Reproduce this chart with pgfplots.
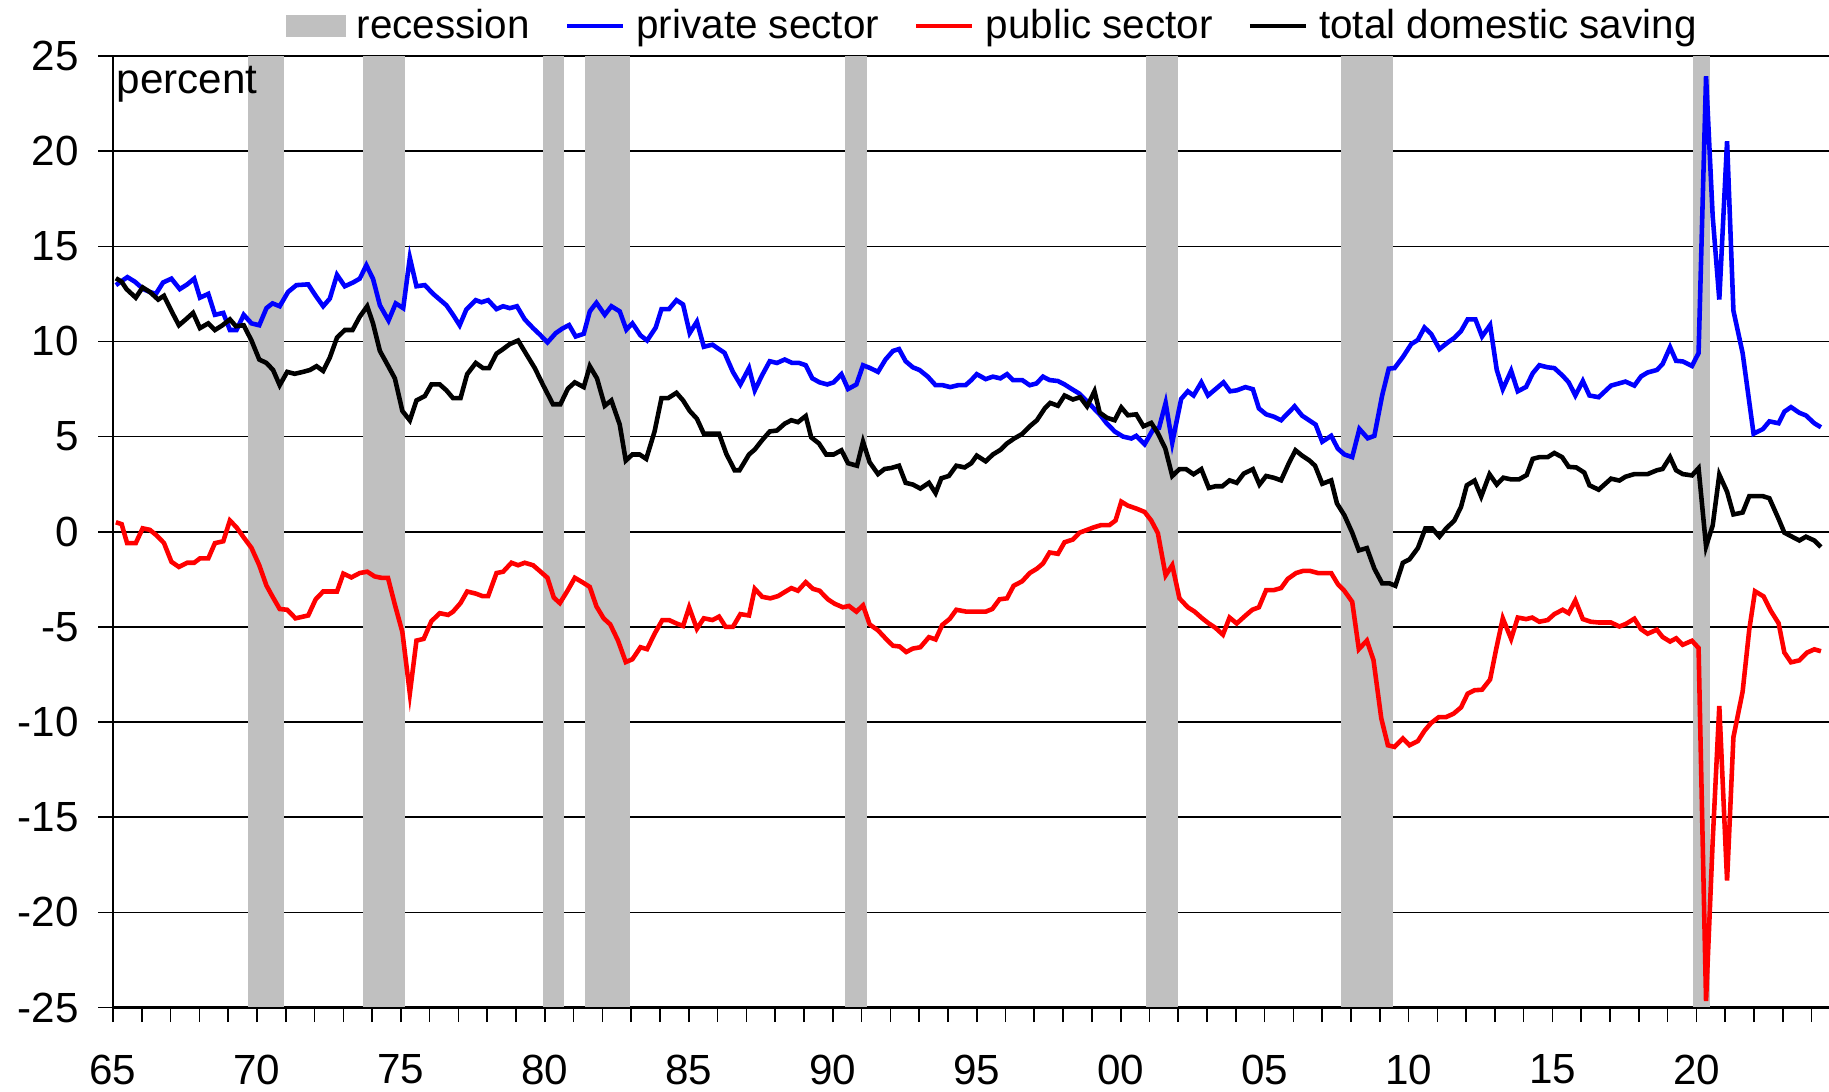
\documentclass[border=0pt]{standalone}
\usepackage{fontspec}
\setmainfont{Liberation Sans}
\usepackage{pgfplots}
\usepackage{pgfplotstable}
\pgfplotsset{compat=1.18}
\definecolor{recgray}{RGB}{192,192,192}

\pgfplotstableread{
x y
1965.10 12.96
1965.50 13.38
1965.76 13.14
1966.05 12.75
1966.28 12.6
1966.49 12.5
1966.74 13.1
1967.03 13.3
1967.32 12.75
1967.58 13.0
1967.82 13.3
1968.02 12.3
1968.31 12.5
1968.54 11.4
1968.83 11.5
1969.06 10.6
1969.29 10.6
1969.54 11.4
1969.81 10.95
1970.08 10.85
1970.33 11.75
1970.54 12.0
1970.79 11.85
1971.08 12.6
1971.37 12.96
1971.78 13.0
1972.04 12.4
1972.30 11.85
1972.53 12.25
1972.78 13.5
1973.05 12.9
1973.34 13.1
1973.57 13.3
1973.80 14.0
1974.03 13.3
1974.27 11.9
1974.57 11.1
1974.82 12.0
1975.08 11.75
1975.31 14.4
1975.54 12.9
1975.83 12.96
1976.12 12.5
1976.35 12.2
1976.58 11.9
1976.81 11.4
1977.04 10.85
1977.27 11.67
1977.60 12.17
1977.80 12.06
1978.03 12.17
1978.32 11.7
1978.55 11.85
1978.78 11.75
1979.03 11.85
1979.30 11.16
1979.59 10.7
1979.82 10.37
1980.09 9.95
1980.38 10.44
1980.61 10.68
1980.84 10.86
1981.07 10.26
1981.35 10.4
1981.56 11.58
1981.79 12.03
1982.08 11.4
1982.31 11.85
1982.60 11.58
1982.83 10.62
1983.04 10.95
1983.32 10.32
1983.55 10.05
1983.85 10.73
1984.05 11.7
1984.31 11.7
1984.57 12.17
1984.80 11.94
1985.03 10.44
1985.28 11.04
1985.52 9.72
1985.82 9.83
1986.24 9.4
1986.53 8.4
1986.79 7.74
1987.09 8.6
1987.29 7.43
1987.55 8.24
1987.81 8.96
1988.06 8.87
1988.33 9.05
1988.59 8.87
1988.83 8.87
1989.06 8.75
1989.29 8.06
1989.54 7.85
1989.81 7.74
1990.03 7.85
1990.30 8.28
1990.53 7.5
1990.82 7.74
1991.05 8.75
1991.30 8.6
1991.57 8.4
1991.83 9.05
1992.09 9.5
1992.30 9.6
1992.53 8.96
1992.78 8.64
1993.01 8.5
1993.30 8.15
1993.57 7.7
1993.82 7.7
1994.08 7.6
1994.35 7.7
1994.61 7.7
1994.81 7.97
1995.00 8.28
1995.31 8.02
1995.56 8.15
1995.82 8.06
1996.05 8.28
1996.26 7.97
1996.58 7.97
1996.84 7.7
1997.07 7.79
1997.30 8.15
1997.53 7.97
1997.82 7.92
1998.05 7.74
1998.30 7.5
1998.57 7.25
1999.27 6.17
1999.50 5.72
1999.79 5.27
2000.08 5.0
2000.37 4.9
2000.54 5.04
2000.83 4.6
2001.12 5.36
2001.33 5.45
2001.56 6.77
2001.79 4.68
2002.10 6.98
2002.33 7.38
2002.53 7.16
2002.80 7.85
2003.03 7.16
2003.29 7.49
2003.57 7.85
2003.80 7.38
2004.03 7.43
2004.33 7.6
2004.59 7.49
2004.80 6.48
2005.05 6.17
2005.31 6.05
2005.57 5.86
2005.80 6.22
2006.04 6.59
2006.30 6.1
2006.55 5.85
2006.77 5.63
2007.00 4.73
2007.31 5.04
2007.54 4.37
2007.77 4.06
2008.04 3.92
2008.29 5.4
2008.58 4.91
2008.81 5.04
2009.08 7.16
2009.31 8.57
2009.51 8.6
2009.80 9.18
2010.09 9.86
2010.32 10.08
2010.55 10.73
2010.78 10.4
2011.07 9.6
2011.36 9.95
2011.59 10.19
2011.82 10.55
2012.05 11.16
2012.32 11.16
2012.55 10.26
2012.83 10.86
2013.06 8.51
2013.27 7.49
2013.56 8.46
2013.79 7.38
2014.08 7.61
2014.31 8.33
2014.54 8.75
2014.83 8.64
2015.06 8.6
2015.35 8.2
2015.56 7.85
2015.79 7.16
2016.05 7.92
2016.28 7.16
2016.60 7.07
2017.03 7.68
2017.53 7.89
2017.84 7.68
2018.07 8.16
2018.30 8.37
2018.62 8.5
2018.82 8.81
2019.08 9.7
2019.29 8.98
2019.52 8.95
2019.84 8.71
2020.07 9.39
2020.33 23.94
2020.56 16.58
2020.79 12.2
2021.06 20.52
2021.28 11.62
2021.60 9.39
2021.98 5.15
2022.30 5.39
2022.53 5.8
2022.85 5.7
2023.05 6.31
2023.28 6.55
2023.57 6.25
2023.80 6.11
2024.09 5.7
2024.32 5.49
}\privatetab

\pgfplotstableread{
x y
1965.10 0.5
1965.30 0.4
1965.49 -0.6
1965.79 -0.6
1966.03 0.18
1966.28 0.1
1966.51 -0.19
1966.77 -0.59
1967.03 -1.58
1967.29 -1.85
1967.58 -1.63
1967.82 -1.63
1968.02 -1.4
1968.31 -1.4
1968.54 -0.6
1968.83 -0.5
1969.06 0.59
1969.29 0.23
1969.54 -0.3
1969.81 -0.85
1970.08 -1.76
1970.33 -2.83
1970.56 -3.46
1970.79 -4.06
1971.05 -4.1
1971.34 -4.55
1971.78 -4.4
1972.04 -3.55
1972.30 -3.14
1972.53 -3.14
1972.78 -3.14
1973.00 -2.2
1973.28 -2.4
1973.57 -2.17
1973.83 -2.1
1974.09 -2.35
1974.32 -2.42
1974.55 -2.42
1974.79 -3.83
1975.05 -5.27
1975.31 -8.5
1975.54 -5.72
1975.79 -5.63
1976.06 -4.7
1976.35 -4.28
1976.64 -4.37
1976.81 -4.2
1977.07 -3.75
1977.30 -3.14
1977.60 -3.25
1977.83 -3.38
1978.03 -3.38
1978.32 -2.17
1978.55 -2.1
1978.84 -1.63
1979.07 -1.76
1979.30 -1.63
1979.59 -1.76
1979.82 -2.06
1980.09 -2.42
1980.31 -3.46
1980.52 -3.75
1980.77 -3.14
1981.04 -2.42
1981.30 -2.65
1981.56 -2.9
1981.79 -3.92
1982.04 -4.55
1982.27 -4.87
1982.54 -5.72
1982.81 -6.85
1983.04 -6.7
1983.32 -6.07
1983.55 -6.17
1983.81 -5.36
1984.08 -4.64
1984.31 -4.64
1984.57 -4.82
1984.80 -4.95
1985.01 -3.97
1985.28 -5.1
1985.52 -4.55
1985.82 -4.64
1986.05 -4.46
1986.28 -5.0
1986.53 -5.0
1986.79 -4.33
1987.09 -4.4
1987.29 -3.0
1987.55 -3.42
1987.83 -3.5
1988.10 -3.38
1988.36 -3.14
1988.56 -2.96
1988.79 -3.1
1989.06 -2.65
1989.31 -3.0
1989.54 -3.1
1989.83 -3.55
1990.06 -3.78
1990.35 -3.97
1990.56 -3.9
1990.82 -4.2
1991.05 -3.87
1991.28 -4.87
1991.57 -5.18
1991.83 -5.6
1992.09 -5.99
1992.32 -6.03
1992.55 -6.32
1992.78 -6.14
1993.04 -6.07
1993.34 -5.54
1993.57 -5.66
1993.80 -4.9
1994.06 -4.58
1994.29 -4.1
1994.64 -4.2
1995.31 -4.2
1995.54 -4.06
1995.79 -3.55
1996.05 -3.5
1996.28 -2.84
1996.58 -2.6
1996.84 -2.17
1997.09 -1.94
1997.30 -1.67
1997.53 -1.09
1997.82 -1.16
1998.05 -0.55
1998.34 -0.41
1998.57 -0.05
1998.80 0.08
1999.06 0.23
1999.32 0.35
1999.61 0.35
1999.82 0.59
2000.02 1.58
2000.25 1.37
2000.54 1.22
2000.83 1.04
2001.06 0.59
2001.29 -0.07
2001.56 -2.29
2001.79 -1.76
2002.04 -3.5
2002.33 -3.97
2002.56 -4.19
2002.83 -4.55
2003.06 -4.82
2003.29 -5.05
2003.55 -5.41
2003.78 -4.51
2004.03 -4.82
2004.33 -4.41
2004.57 -4.1
2004.80 -3.97
2005.05 -3.07
2005.31 -3.07
2005.57 -2.96
2005.80 -2.48
2006.09 -2.17
2006.33 -2.06
2006.58 -2.06
2006.85 -2.17
2007.31 -2.17
2007.54 -2.75
2007.77 -3.11
2008.04 -3.68
2008.27 -6.17
2008.55 -5.72
2008.78 -6.75
2009.05 -9.81
2009.28 -11.22
2009.51 -11.31
2009.80 -10.86
2010.03 -11.22
2010.32 -11.0
2010.55 -10.46
2010.78 -10.05
2011.05 -9.74
2011.30 -9.74
2011.56 -9.56
2011.82 -9.23
2012.05 -8.51
2012.29 -8.33
2012.55 -8.3
2012.83 -7.76
2013.04 -6.17
2013.27 -4.55
2013.56 -5.63
2013.79 -4.51
2014.08 -4.59
2014.29 -4.51
2014.54 -4.73
2014.83 -4.64
2015.06 -4.33
2015.35 -4.1
2015.56 -4.28
2015.79 -3.61
2016.05 -4.59
2016.33 -4.73
2016.60 -4.77
2017.03 -4.77
2017.32 -4.98
2017.55 -4.84
2017.84 -4.57
2018.07 -5.12
2018.30 -5.36
2018.62 -5.15
2018.82 -5.53
2019.08 -5.77
2019.29 -5.6
2019.52 -5.94
2019.84 -5.73
2020.07 -6.11
2020.33 -24.66
2020.56 -16.27
2020.79 -9.15
2021.06 -18.33
2021.28 -10.8
2021.60 -8.4
2021.83 -5.15
2022.03 -3.13
2022.33 -3.4
2022.58 -4.16
2022.85 -4.81
2023.05 -6.35
2023.28 -6.86
2023.57 -6.76
2023.84 -6.35
2024.09 -6.18
2024.32 -6.28
}\publictab

\pgfplotstableread{
x y
1965.10 13.32
1965.30 13.14
1965.47 12.75
1965.79 12.3
1966.03 12.84
1966.28 12.6
1966.57 12.2
1966.77 12.4
1967.03 11.6
1967.29 10.85
1967.53 11.16
1967.78 11.5
1968.02 10.7
1968.31 10.95
1968.54 10.6
1968.80 10.85
1969.06 11.16
1969.27 10.8
1969.54 10.85
1969.81 10.05
1970.08 9.05
1970.33 8.87
1970.56 8.5
1970.79 7.7
1971.05 8.4
1971.31 8.3
1971.60 8.4
1971.84 8.5
1972.07 8.7
1972.30 8.45
1972.53 9.15
1972.78 10.2
1973.05 10.6
1973.32 10.6
1973.57 11.3
1973.83 11.85
1974.03 10.95
1974.27 9.5
1974.50 8.87
1974.79 8.06
1975.05 6.35
1975.31 5.85
1975.54 6.9
1975.83 7.13
1976.06 7.74
1976.35 7.74
1976.58 7.43
1976.81 7.02
1977.07 7.02
1977.30 8.28
1977.60 8.87
1977.85 8.6
1978.06 8.6
1978.32 9.36
1978.55 9.6
1978.78 9.86
1979.07 10.05
1979.36 9.32
1979.65 8.6
1979.94 7.7
1980.28 6.7
1980.54 6.7
1980.80 7.52
1981.04 7.85
1981.35 7.6
1981.56 8.7
1981.81 8.06
1982.08 6.62
1982.31 6.9
1982.60 5.63
1982.81 3.74
1983.04 4.06
1983.29 4.06
1983.52 3.83
1983.81 5.27
1984.05 7.02
1984.28 7.02
1984.57 7.3
1984.80 6.9
1985.03 6.35
1985.28 5.94
1985.52 5.15
1986.05 5.15
1986.30 4.1
1986.59 3.23
1986.76 3.23
1987.09 4.06
1987.29 4.32
1987.55 4.82
1987.81 5.27
1988.06 5.32
1988.33 5.68
1988.56 5.86
1988.79 5.76
1989.06 6.08
1989.25 4.96
1989.52 4.64
1989.77 4.06
1990.03 4.06
1990.30 4.28
1990.53 3.6
1990.84 3.47
1991.05 4.73
1991.28 3.65
1991.57 3.03
1991.80 3.3
1992.03 3.35
1992.30 3.47
1992.53 2.57
1992.78 2.48
1993.04 2.27
1993.34 2.57
1993.57 2.03
1993.77 2.81
1994.03 2.93
1994.29 3.47
1994.58 3.38
1994.81 3.6
1995.00 4.0
1995.31 3.7
1995.56 4.06
1995.82 4.3
1996.05 4.64
1996.31 4.91
1996.58 5.14
1996.84 5.54
1997.09 5.86
1997.36 6.48
1997.55 6.77
1997.82 6.62
1998.05 7.16
1998.34 6.95
1998.59 7.07
1998.83 6.59
1999.09 7.38
1999.27 6.26
1999.52 5.99
1999.79 5.86
2000.02 6.53
2000.25 6.12
2000.54 6.17
2000.79 5.54
2001.06 5.72
2001.29 5.18
2001.55 4.37
2001.79 2.93
2002.04 3.29
2002.27 3.29
2002.53 3.02
2002.80 3.29
2003.06 2.3
2003.29 2.39
2003.53 2.39
2003.78 2.7
2004.03 2.57
2004.27 3.05
2004.59 3.29
2004.82 2.48
2005.05 2.93
2005.31 2.84
2005.57 2.7
2005.84 3.6
2006.07 4.28
2006.30 4.0
2006.55 3.75
2006.75 3.47
2007.00 2.52
2007.31 2.7
2007.51 1.49
2007.77 0.86
2008.04 -0.05
2008.27 -0.98
2008.55 -0.86
2008.81 -1.94
2009.08 -2.71
2009.33 -2.71
2009.54 -2.84
2009.80 -1.63
2010.03 -1.45
2010.32 -0.86
2010.58 0.17
2010.82 0.17
2011.07 -0.26
2011.30 0.17
2011.59 0.59
2011.82 1.31
2012.02 2.44
2012.29 2.69
2012.52 1.85
2012.81 3.02
2013.06 2.48
2013.29 2.84
2013.56 2.75
2013.83 2.75
2014.10 2.98
2014.31 3.83
2014.54 3.92
2014.83 3.92
2015.06 4.14
2015.33 3.92
2015.56 3.41
2015.82 3.38
2016.10 3.11
2016.28 2.44
2016.60 2.21
2017.03 2.79
2017.32 2.69
2017.53 2.89
2017.84 3.03
2018.30 3.03
2018.62 3.23
2018.82 3.3
2019.08 3.92
2019.29 3.23
2019.52 3.03
2019.84 2.96
2020.07 3.34
2020.33 -0.77
2020.56 0.33
2020.79 3.0
2021.06 2.1
2021.28 0.91
2021.60 1.01
2021.83 1.87
2022.30 1.87
2022.53 1.76
2022.85 0.67
2023.05 -0.05
2023.57 -0.46
2023.80 -0.26
2024.09 -0.46
2024.32 -0.8
}\totaltab

\begin{document}
\begin{tikzpicture}
\path[use as bounding box] (-1.13cm,-0.845cm) rectangle (17.16cm,10.075cm);
\begin{axis}[
  at={(0,0)}, anchor=south west,
  scale only axis,
  width=17.16cm, height=9.515cm,
  xmin=1965, xmax=2024.6,
  ymin=-25, ymax=25,
  axis lines=left,
  axis line style={-, line width=0.6pt, black},
  xtick={1965,1970,...,2020},
  xticklabels={65,70,75,80,85,90,95,00,05,10,15,20},
  minor xtick={1966,...,2024},
  ytick={-25,-20,...,25},
  tick align=outside,
  major tick length=0.147cm,
  minor tick length=0.147cm,
  every tick/.style={black, line width=0.45pt},
  ymajorgrids,
  grid style={black, line width=0.45pt},
  /pgf/number format/assume math mode=true,
  ticklabel style={font=\fontsize{12}{14}\selectfont},
  xticklabel style={yshift=-0.2cm},
  yticklabel style={xshift=-0.07cm},
  legend image code/.code={\draw[#1] (0cm,0cm) -- (0.56cm,0cm);},
  legend style={at={(0.514,1)}, anchor=center, yshift=0.3cm,
    draw=none, fill=none, legend columns=-1,
    font=\fontsize{11.5}{13}\selectfont,
    /tikz/every odd column/.append style={column sep=0.04cm},
    /tikz/every even column/.append style={column sep=0.28cm}},
]
\addplot[fill=recgray, draw=none, forget plot] coordinates {(1969.70,-25) (1970.95,-25) (1970.95,25) (1969.70,25)} --cycle;
\addplot[fill=recgray, draw=none, forget plot] coordinates {(1973.67,-25) (1975.13,-25) (1975.13,25) (1973.67,25)} --cycle;
\addplot[fill=recgray, draw=none, forget plot] coordinates {(1979.94,-25) (1980.67,-25) (1980.67,25) (1979.94,25)} --cycle;
\addplot[fill=recgray, draw=none, forget plot] coordinates {(1981.40,-25) (1982.94,-25) (1982.94,25) (1981.40,25)} --cycle;
\addplot[fill=recgray, draw=none, forget plot] coordinates {(1990.43,-25) (1991.20,-25) (1991.20,25) (1990.43,25)} --cycle;
\addplot[fill=recgray, draw=none, forget plot] coordinates {(2000.88,-25) (2001.98,-25) (2001.98,25) (2000.88,25)} --cycle;
\addplot[fill=recgray, draw=none, forget plot] coordinates {(2007.65,-25) (2009.47,-25) (2009.47,25) (2007.65,25)} --cycle;
\addplot[fill=recgray, draw=none, forget plot] coordinates {(2019.88,-25) (2020.45,-25) (2020.45,25) (2019.88,25)} --cycle;

\addlegendimage{legend image code/.code={\fill[recgray] (0cm,-0.105cm) rectangle (0.58cm,0.105cm);}}
\addlegendentry{recession}
\addplot[blue, line width=1.3pt] table {\privatetab};
\addlegendentry{private sector}
\addplot[red, line width=1.3pt] table {\publictab};
\addlegendentry{public sector}
\addplot[black, line width=1.3pt] table {\totaltab};
\addlegendentry{total domestic saving}

\node[anchor=north west, inner sep=0pt, font=\fontsize{12}{14}\selectfont]
  at (rel axis cs:0,1) [xshift=0.03cm, yshift=-0.1cm] {percent};
\end{axis}
\end{tikzpicture}
\end{document}
